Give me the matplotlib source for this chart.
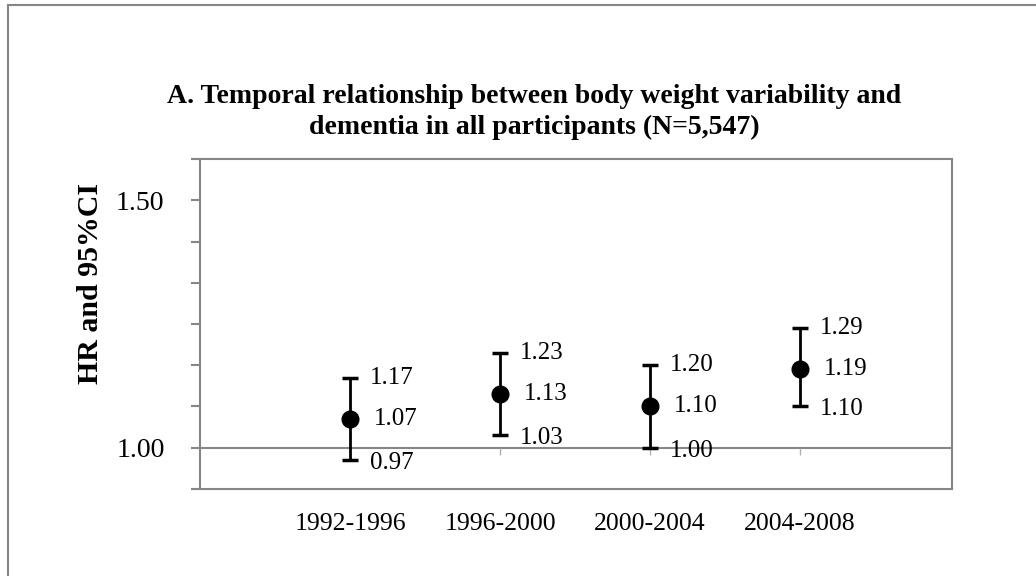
import numpy as np
import matplotlib
matplotlib.use("Agg")
import matplotlib.pyplot as plt
from matplotlib.lines import Line2D

# --- data ---
periods = ['1992-1996', '1996-2000', '2000-2004', '2004-2008']
hr = [1.07, 1.13, 1.10, 1.19]
ci_low = [0.97, 1.03, 1.00, 1.10]
ci_high = [1.17, 1.23, 1.20, 1.29]

y_ticks = [0.9, 1.0, 1.1, 1.2, 1.3, 1.4, 1.5, 1.6, 1.7]
y_tick_labels = ['', '1.00', '', '', '', '', '', '1.50', '']

plt.rcParams['font.family'] = ['Liberation Serif', 'DejaVu Serif']
GRAY = '#868686'

W, H = 1036, 576
fig = plt.figure(figsize=(W / 100, H / 100), dpi=100)
ax = fig.add_axes([200 / W, 1 - 489 / H, 752 / W, 330 / H])

x = np.arange(1, len(periods) + 1)
hr_a = np.array(hr)
yerr = [hr_a - np.array(ci_low), np.array(ci_high) - hr_a]

ax.axhline(1.0, color=GRAY, lw=1.5, zorder=1)
# small category ticks hanging under the 1.00 line
ax.plot(x, np.full(len(x), 1.0), ls='none', marker=3, ms=5, mew=1,
        color='#b0b0b0', zorder=1)

ax.errorbar(x, hr, yerr=yerr, fmt='o', color='black', ms=12,
            elinewidth=2, capsize=6, capthick=2.5, zorder=3)

for xi, lo, mid, hi in zip(x, ci_low, hr, ci_high):
    ax.annotate(f'{hi:.2f}', (xi, hi), xytext=(14.5, 0), textcoords='offset points',
                ha='left', va='center', fontsize=18)
    ax.annotate(f'{mid:.2f}', (xi, mid), xytext=(17.5, 0), textcoords='offset points',
                ha='left', va='center', fontsize=18)
    ax.annotate(f'{lo:.2f}', (xi, lo), xytext=(14.5, -2), textcoords='offset points',
                ha='left', va='center', fontsize=18)

ax.set_xlim(0, 5.013)
ax.set_ylim(0.9, 1.7)
ax.set_xticks(x)
ax.set_xticklabels(periods, fontsize=18.5)
ax.tick_params(axis='x', length=0, pad=17)
ax.set_yticks(y_ticks)
ax.set_yticklabels(y_tick_labels, fontsize=20)
ax.tick_params(axis='y', direction='out', length=6.5, width=1.5, color=GRAY, pad=19)

for sp in ax.spines.values():
    sp.set_color(GRAY)
    sp.set_linewidth(1.5)

fig.text(91 / W, 1 - 283 / H, 'HR and 95%CI', rotation=90, ha='center', va='center',
         fontsize=21.5, fontweight='bold')

fig.text(534 / W, 1 - 112 / H,
         'A. Temporal relationship between body weight variability and\n'
         'dementia in all participants (N=5,547)',
         ha='center', va='center', multialignment='center', fontsize=20,
         fontweight='bold', linespacing=1.3)

# outer frame (only top and left edges visible in the reference)
fig.add_artist(Line2D([8 / W, 8 / W], [0, 1 - 5 / H], color=GRAY, lw=1.5))
fig.add_artist(Line2D([8 / W, 1], [1 - 5 / H, 1 - 5 / H], color=GRAY, lw=1.5))

fig.savefig('out.png', dpi=100)
